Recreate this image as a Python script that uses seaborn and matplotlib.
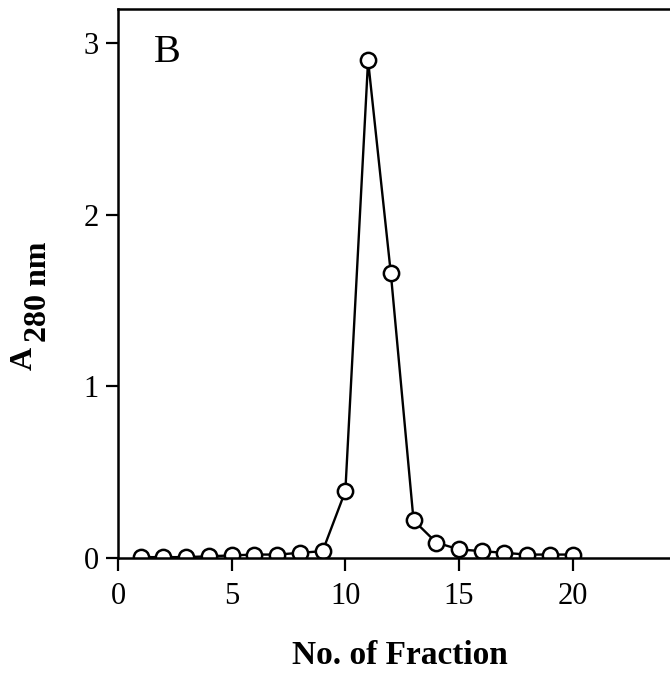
import matplotlib
matplotlib.use("Agg")
import matplotlib.pyplot as plt
import seaborn as sns
import pandas as pd

# fraction number and absorbance at 280 nm
fraction = [1, 2, 3, 4, 5, 6, 7, 8, 9, 10, 11, 12, 13, 14, 15, 16, 17, 18, 19, 20]
a280 = [0.005, 0.005, 0.005, 0.01, 0.015, 0.02, 0.02, 0.03, 0.04, 0.39,
        2.90, 1.66, 0.22, 0.09, 0.05, 0.04, 0.03, 0.02, 0.02, 0.02]
x_ticks = [0, 5, 10, 15, 20]
y_ticks = [0, 1, 2, 3]

df = pd.DataFrame({"fraction": fraction, "a280": a280})

sns.set_style("ticks")
plt.rcParams["font.family"] = ["Liberation Serif", "DejaVu Serif"]
for key in ["text.color", "axes.labelcolor", "xtick.color", "ytick.color", "axes.edgecolor"]:
    plt.rcParams[key] = "black"

fig = plt.figure(figsize=(6.7, 6.75), dpi=100)
ax = fig.add_axes([118 / 670, 117 / 675, 582 / 670, 549 / 675])

sns.lineplot(data=df, x="fraction", y="a280", ax=ax, color="black", linewidth=1.7,
             marker="o", markersize=11, markerfacecolor="white",
             markeredgecolor="black", markeredgewidth=1.8)

ax.set_xlim(0, 25.6)
ax.set_ylim(0, 3.2)
ax.set_xticks(x_ticks)
ax.set_yticks(y_ticks)
ax.tick_params(direction="out", length=9, width=1.6, labelsize=22)
ax.tick_params(axis="x", pad=8)
ax.tick_params(axis="y", pad=5)
for s in ["left", "bottom", "top"]:
    ax.spines[s].set_linewidth(1.8)
ax.spines["right"].set_visible(False)

ax.set_xlabel("")
ax.set_ylabel("")
# axis titles: subscript in the original is as big as the main letter
fig.text(400 / 670, 1 - 655 / 675, "No. of Fraction", fontsize=24, fontweight="bold",
         ha="center", va="center")
fig.text(24 / 670, 1 - 358 / 675, "A", fontsize=23, fontweight="bold",
         rotation=90, ha="center", va="center")
fig.text(39 / 670, 1 - 292 / 675, "280 nm", fontsize=23, fontweight="bold",
         rotation=90, ha="center", va="center")
fig.text(167 / 670, 1 - 52 / 675, "B", fontsize=29, ha="center", va="center")

fig.savefig("out.png", dpi=100)
